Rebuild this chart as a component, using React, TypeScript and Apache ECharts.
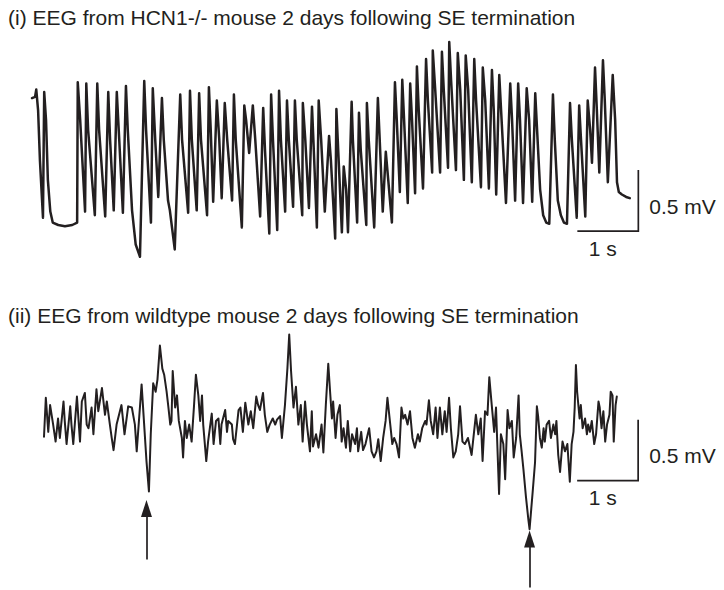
import React, { useEffect, useRef } from 'react';
import * as echarts from 'echarts';

// Panel (i): HCN1-/- mouse EEG, time in s, voltage in mV (relative to baseline)
const hcn1Time = [
  0, 0.05, 0.07, 0.10, 0.13, 0.18,
  0.20, 0.23, 0.26, 0.30, 0.34, 0.43, 0.54, 0.66, 0.74,
  0.75, 0.79, 0.87, 0.89, 0.92, 1.03, 1.07, 1.10, 1.20, 1.25, 1.28, 1.34, 1.39, 1.43, 1.49,
  1.54, 1.57, 1.64, 1.70, 1.77,
  1.84, 1.87, 1.95, 1.98, 2.02, 2.07,
  2.13, 2.16, 2.23, 2.26, 2.30, 2.34,
  2.43, 2.46, 2.56, 2.59, 2.62, 2.70, 2.74, 2.77, 2.87, 2.90, 2.93, 2.97,
  3.03, 3.07, 3.11, 3.16, 3.20, 3.28, 3.31, 3.34, 3.44, 3.48, 3.51, 3.56,
  3.62, 3.66, 3.74, 3.79, 3.82, 3.89, 3.92, 3.95, 4.02, 4.05, 4.08, 4.15,
  4.18, 4.21, 4.28, 4.31, 4.34, 4.43, 4.44, 4.48, 4.54, 4.59, 4.62, 4.67,
  4.70, 4.74, 4.80, 4.87, 4.90, 4.97, 4.99, 5.02, 5.08, 5.11, 5.15, 5.18,
  5.24, 5.26, 5.33, 5.36, 5.39, 5.48, 5.49, 5.52, 5.61, 5.67, 5.70, 5.75,
  5.80, 5.84, 5.90, 5.95, 5.98, 6.03, 6.07, 6.10, 6.16, 6.20, 6.23, 6.28,
  6.31, 6.34, 6.41, 6.46, 6.49, 6.56, 6.57, 6.61, 6.69, 6.72, 6.75, 6.82,
  6.84, 6.87, 6.95, 6.98, 7.02, 7.08, 7.11, 7.15, 7.21, 7.25, 7.28, 7.36,
  7.39, 7.43, 7.49, 7.54, 7.57, 7.61, 7.66, 7.69, 7.77, 7.84, 7.87, 7.92,
  7.97, 8.00, 8.05, 8.11, 8.15, 8.20,
  8.25, 8.28, 8.33, 8.38, 8.43, 8.48,
  8.54, 8.57, 8.62, 8.67, 8.72, 8.77,
  8.82, 8.85, 8.93, 8.97, 9.00, 9.07, 9.11, 9.15, 9.18, 9.23, 9.26, 9.30,
  9.36, 9.39, 9.44, 9.52, 9.56, 9.59, 9.62, 9.67, 9.74, 9.80,
];
const hcn1Volt = [
  1.04, 1.05, 1.11, 0.94, 0.53, 0.06,
  1.09, 0.86, 0.37, 0.11, 0.02, 0, -0.01, 0, 0.02,
  1.17, 0.86, 0.11, 1.16, 0.78, 0.08, 1.16, 0.78, 0.07, 1.09, 0.70, 0.12, 1.09, 0.70, 0.10,
  1.14, 0.78, 0.12, -0.16, -0.26,
  1.18, 0.78, 0.02, 1.12, 0.70, 0.23,
  1.04, 0.70, 0.20, 0.12, -0.04, -0.20,
  1.07, 0.70, 0.10, 1.10, 0.70, 0.12, 1.08, 0.70, 0.08, 1.13, 0.78, 0.19,
  1.02, 0.70, 0.22, 1.00, 0.70, 0.20, 1.07, 0.70, -0.02, 0.98, 0.86, 0.59,
  0.98, 0.70, 0.07, 0.96, 0.61, -0.07, 1.07, 0.70, -0.04, 1.10, 0.70, 0.11,
  1.02, 0.70, 0.15, 1.02, 0.70, 0.08, 1.00, 0.70, 0.14, 0.97, 0.61, -0.02,
  1.02, 0.70, 0.11, 0.73, 0.53, -0.11, 0.95, 0.61, -0.06, 0.48, 0.29, -0.06,
  1.01, 0.70, 0.02, 0.92, 0.61, 0, 1.00, 0.70, -0.02, 1.04, 0.70, 0.11,
  0.60, 0.37, 0.02, 1.17, 0.86, 0.27, 1.19, 0.86, 0.18, 1.16, 0.86, 0.26,
  1.30, 0.94, 0.30, 1.36, 1.02, 0.43, 1.43, 1.11, 0.43, 1.42, 1.11, 0.47,
  1.50, 1.19, 0.45, 1.41, 1.11, 0.37, 1.39, 1.11, 0.35, 1.36, 1.02, 0.31,
  1.29, 1.02, 0.30, 1.27, 0.94, 0.25, 1.23, 0.94, 0.18, 1.16, 0.86, 0.20,
  1.16, 0.86, 0.18, 1.12, 0.86, 0.19,
  1.08, 0.78, 0.29, 0.08, 0.02, 0.01,
  1.07, 0.70, 0.20, 0.08, 0.02, 0.01,
  1.00, 0.70, 0.06, 0.98, 0.70, 0.07, 1.02, 0.78, 0.51, 1.29, 0.94, 0.43,
  1.35, 1.02, 0.35, 1.23, 0.86, 0.35, 0.27, 0.25, 0.23, 0.22,
];

// Panel (ii): wildtype mouse EEG, time in s, voltage in mV
const wtTime = [
  0.00, 0.03, 0.07, 0.10, 0.15, 0.19, 0.23, 0.26, 0.32, 0.34,
  0.37, 0.43, 0.45, 0.48, 0.54, 0.59, 0.62, 0.67, 0.70, 0.73,
  0.78, 0.81, 0.86, 0.89, 0.95, 1.00, 1.03, 1.08, 1.11, 1.14,
  1.19, 1.27, 1.32, 1.38, 1.44, 1.49, 1.52, 1.60, 1.68, 1.72,
  1.75, 1.79, 1.83, 1.86, 1.90, 1.94, 1.97, 2.01, 2.04, 2.07,
  2.09, 2.11, 2.15, 2.18, 2.21, 2.26, 2.28, 2.31, 2.34, 2.38,
  2.42, 2.46, 2.49, 2.53, 2.56, 2.59, 2.61, 2.66, 2.69, 2.75,
  2.78, 2.82, 2.86, 2.89, 2.91, 2.97, 3.00, 3.02, 3.08, 3.10,
  3.13, 3.19, 3.22, 3.26, 3.30, 3.35, 3.39, 3.43, 3.48, 3.51,
  3.54, 3.59, 3.62, 3.66, 3.70, 3.75, 3.79, 3.82, 3.87, 3.90,
  3.95, 3.99, 4.02, 4.05, 4.09, 4.13, 4.17, 4.21, 4.24, 4.28,
  4.31, 4.36, 4.39, 4.41, 4.46, 4.50, 4.55, 4.58, 4.62, 4.66,
  4.69, 4.72, 4.74, 4.78, 4.81, 4.85, 4.88, 4.91, 4.95, 4.98,
  5.02, 5.05, 5.10, 5.13, 5.15, 5.20, 5.23, 5.27, 5.33, 5.37,
  5.41, 5.45, 5.48, 5.52, 5.56, 5.60, 5.63, 5.67, 5.71, 5.74,
  5.78, 5.82, 5.86, 5.89, 5.92, 5.96, 6.00, 6.04, 6.08, 6.13,
  6.16, 6.20, 6.25, 6.27, 6.31, 6.34, 6.38, 6.42, 6.45, 6.49,
  6.53, 6.57, 6.60, 6.64, 6.67, 6.71, 6.75, 6.79, 6.82, 6.86,
  6.90, 6.95, 7.01, 7.05, 7.08, 7.12, 7.16, 7.19, 7.23, 7.27,
  7.30, 7.34, 7.38, 7.41, 7.46, 7.49, 7.53, 7.56, 7.60, 7.63,
  7.67, 7.70, 7.74, 7.78, 7.80, 7.83, 7.86, 7.90, 7.94, 7.96,
  7.98, 8.01, 8.05, 8.08, 8.10, 8.13, 8.16, 8.19, 8.21, 8.24,
  8.28, 8.31, 8.35, 8.38, 8.40, 8.43, 8.46, 8.50, 8.54, 8.58,
  8.62, 8.65, 8.68, 8.70, 8.72, 8.74, 8.78, 8.80, 8.83, 8.87,
  8.90, 8.92, 8.95, 8.98, 9.02, 9.05, 9.09, 9.11, 9.14, 9.17,
  9.20, 9.23, 9.27, 9.29, 9.32, 9.34, 9.37, 9.39,
];
const wtVolt = [
  -0.14, 0.18, -0.10, 0.12, -0.04, -0.18, 0.01, -0.15, 0.15, -0.01,
  -0.20, 0.11, -0.04, -0.20, 0.19, -0.18, 0.15, 0.22, -0.04, -0.07,
  0.10, -0.12, 0.25, 0.07, 0.26, 0.04, 0.15, -0.04, -0.15, -0.25,
  -0.04, 0.12, -0.12, 0.11, 0.10, -0.04, -0.26, 0.29, -0.34, -0.59,
  -0.12, 0.30, 0.23, 0.33, 0.61, 0.42, 0.37, 0.23, 0.10, -0.04,
  -0.01, 0.40, 0.10, 0.20, -0.01, -0.15, -0.31, -0.01, -0.15, -0.04,
  -0.18, 0.12, 0.37, 0.20, -0.01, 0.20, -0.04, -0.34, -0.18, 0.05,
  -0.20, -0.01, 0.01, -0.20, -0.04, 0.08, -0.10, -0.01, -0.04, -0.16,
  -0.20, 0.08, 0.10, -0.10, 0.14, -0.04, 0.07, -0.07, 0.19, 0.12,
  0.08, 0.22, 0.04, -0.10, -0.04, 0.01, -0.04, 0.00, 0.03, -0.15,
  0.12, 0.42, 0.70, 0.40, 0.10, 0.27, -0.04, 0.12, -0.18, 0.15,
  -0.04, -0.26, 0.07, -0.22, -0.12, -0.23, -0.04, -0.27, 0.12, 0.46,
  0.23, 0.01, 0.15, -0.15, 0.04, 0.12, -0.18, -0.07, -0.23, -0.01,
  -0.26, -0.12, -0.20, -0.07, -0.26, -0.10, -0.25, -0.20, -0.07, -0.26,
  -0.31, -0.26, -0.16, -0.34, -0.15, -0.01, 0.18, -0.01, -0.20, -0.15,
  -0.20, -0.31, 0.10, 0.01, 0.04, -0.04, 0.07, -0.15, -0.23, -0.12,
  -0.18, -0.07, -0.01, -0.04, 0.16, -0.01, -0.12, 0.10, -0.15, 0.10,
  -0.12, 0.07, -0.10, 0.18, -0.07, -0.31, -0.26, -0.12, 0.11, -0.18,
  -0.20, -0.15, -0.29, -0.10, 0.04, -0.12, 0.01, -0.34, 0.07, 0.04,
  0.35, 0.12, -0.10, 0.10, -0.61, -0.12, -0.20, -0.49, 0.08, -0.07,
  -0.01, -0.31, -0.15, 0.20, -0.12, -0.26, -0.41, -0.63, -0.82, -0.90,
  -0.78, -0.60, -0.35, 0.11, 0.03, -0.15, -0.23, -0.07, -0.18, -0.04,
  -0.01, -0.15, -0.04, -0.12, -0.01, -0.29, -0.43, -0.18, -0.26, -0.20,
  -0.51, -0.20, -0.10, 0.10, 0.45, 0.23, 0.01, 0.12, -0.07, 0.01,
  -0.12, -0.04, -0.10, -0.01, -0.20, -0.12, 0.15, 0.10, -0.07, 0.07,
  -0.18, -0.04, 0.04, 0.23, 0.20, -0.18, 0.12, 0.19,
];

const panelTitles = [
  '(i) EEG from HCN1-/- mouse 2 days following SE termination',
  '(ii) EEG from wildtype mouse 2 days following SE termination',
];

// Scale bars: 1 s horizontal, 0.5 mV vertical; corner given as [time s, voltage mV]
const scaleBarSeconds = 1;
const scaleBarMillivolts = 0.5;
const timeBarLabel = '1 s';
const voltBarLabel = '0.5 mV';
const hcn1ScaleCorner = [8.94, -0.05];
const wtScaleCorner = [8.74, -0.5];

// Arrows marking the sharp negative deflections in panel (ii)
const arrowTimes = [1.68, 7.96];
const arrowHeadVolts = [-0.73, -0.98];
const arrowTailVolts = [-1.15, -1.38];

export default function App() {
  const ref = useRef<HTMLDivElement>(null);

  useEffect(() => {
    if (!ref.current) return;
    const chart = echarts.init(ref.current, undefined, { renderer: 'svg' });
    const ink = '#231f20';
    const font = "'Liberation Sans', Arial, Helvetica, sans-serif";
    const fontSize = 21;

    const hcn1Data = hcn1Time.slice(0, Math.min(hcn1Time.length, hcn1Volt.length)).map((t, i) => [t, hcn1Volt[i]]);
    const wtData = wtTime.slice(0, Math.min(wtTime.length, wtVolt.length)).map((t, i) => [t, wtVolt[i]]);
    const bar = (c: number[]) => [
      [c[0], c[1]],
      [c[0] + scaleBarSeconds, c[1]],
      [c[0] + scaleBarSeconds, c[1] + scaleBarMillivolts],
    ];

    const traceLine = (width: number) => ({
      color: ink,
      width,
      join: 'round',
      cap: 'round',
    });

    chart.setOption({
      animation: false,
      title: panelTitles.map((text, i) => ({
        text,
        left: 8,
        top: i === 0 ? 7 : 305,
        padding: 0,
        textStyle: { color: ink, fontFamily: font, fontSize, fontWeight: 'normal' },
      })),
      grid: [
        { left: 32, top: 29.8, width: 610, height: 231.8 },
        { left: 44, top: 322.4, width: 610, height: 268.4 },
      ],
      xAxis: [
        { type: 'value', gridIndex: 0, min: 0, max: 10, show: false },
        { type: 'value', gridIndex: 1, min: 0, max: 10, show: false },
      ],
      yAxis: [
        { type: 'value', gridIndex: 0, min: -0.3, max: 1.6, show: false },
        { type: 'value', gridIndex: 1, min: -1.4, max: 0.8, show: false },
      ],
      series: [
        {
          type: 'line', xAxisIndex: 0, yAxisIndex: 0, data: hcn1Data,
          showSymbol: false, silent: true, lineStyle: traceLine(2.5),
        },
        {
          type: 'line', xAxisIndex: 1, yAxisIndex: 1, data: wtData,
          showSymbol: false, silent: true, lineStyle: traceLine(2),
          markLine: {
            silent: true,
            symbol: ['none', 'triangle'],
            symbolSize: 12,
            label: { show: false },
            emphasis: { disabled: true },
            lineStyle: { color: ink, width: 1.7, type: 'solid' },
            itemStyle: { color: ink },
            data: arrowTimes.map((t, i) => [
              { coord: [t, arrowTailVolts[i]], symbol: 'none' },
              { coord: [t, arrowHeadVolts[i]], symbol: 'triangle', symbolSize: [11, 17] },
            ]),
          },
        },
        {
          type: 'line', xAxisIndex: 0, yAxisIndex: 0, data: bar(hcn1ScaleCorner),
          showSymbol: false, silent: true, lineStyle: { color: ink, width: 1.7, join: 'miter' },
        },
        {
          type: 'line', xAxisIndex: 1, yAxisIndex: 1, data: bar(wtScaleCorner),
          showSymbol: false, silent: true, lineStyle: { color: ink, width: 1.7, join: 'miter' },
        },
      ],
    });

    const labelsFor = (gridIndex: number, corner: number[]) => {
      const end = chart.convertToPixel({ gridIndex }, [corner[0] + scaleBarSeconds, corner[1]]) as number[];
      const start = chart.convertToPixel({ gridIndex }, [corner[0], corner[1]]) as number[];
      return [
        {
          type: 'text',
          x: end[0] + 11,
          y: end[1] - 25,
          silent: true,
          style: { text: voltBarLabel, fill: ink, fontSize, fontFamily: font, align: 'left', verticalAlign: 'middle' },
        },
        {
          type: 'text',
          x: (start[0] + end[0]) / 2 - 5,
          y: end[1] + 17,
          silent: true,
          style: { text: timeBarLabel, fill: ink, fontSize, fontFamily: font, align: 'center', verticalAlign: 'middle' },
        },
      ];
    };

    chart.setOption({
      graphic: [...labelsFor(0, hcn1ScaleCorner), ...labelsFor(1, wtScaleCorner)],
    });

    return () => chart.dispose();
  }, []);

  return (
    <div
      ref={ref}
      style={{ position: 'absolute', left: 0, top: 0, width: 724, height: 590, background: '#fff' }}
    />
  );
}
